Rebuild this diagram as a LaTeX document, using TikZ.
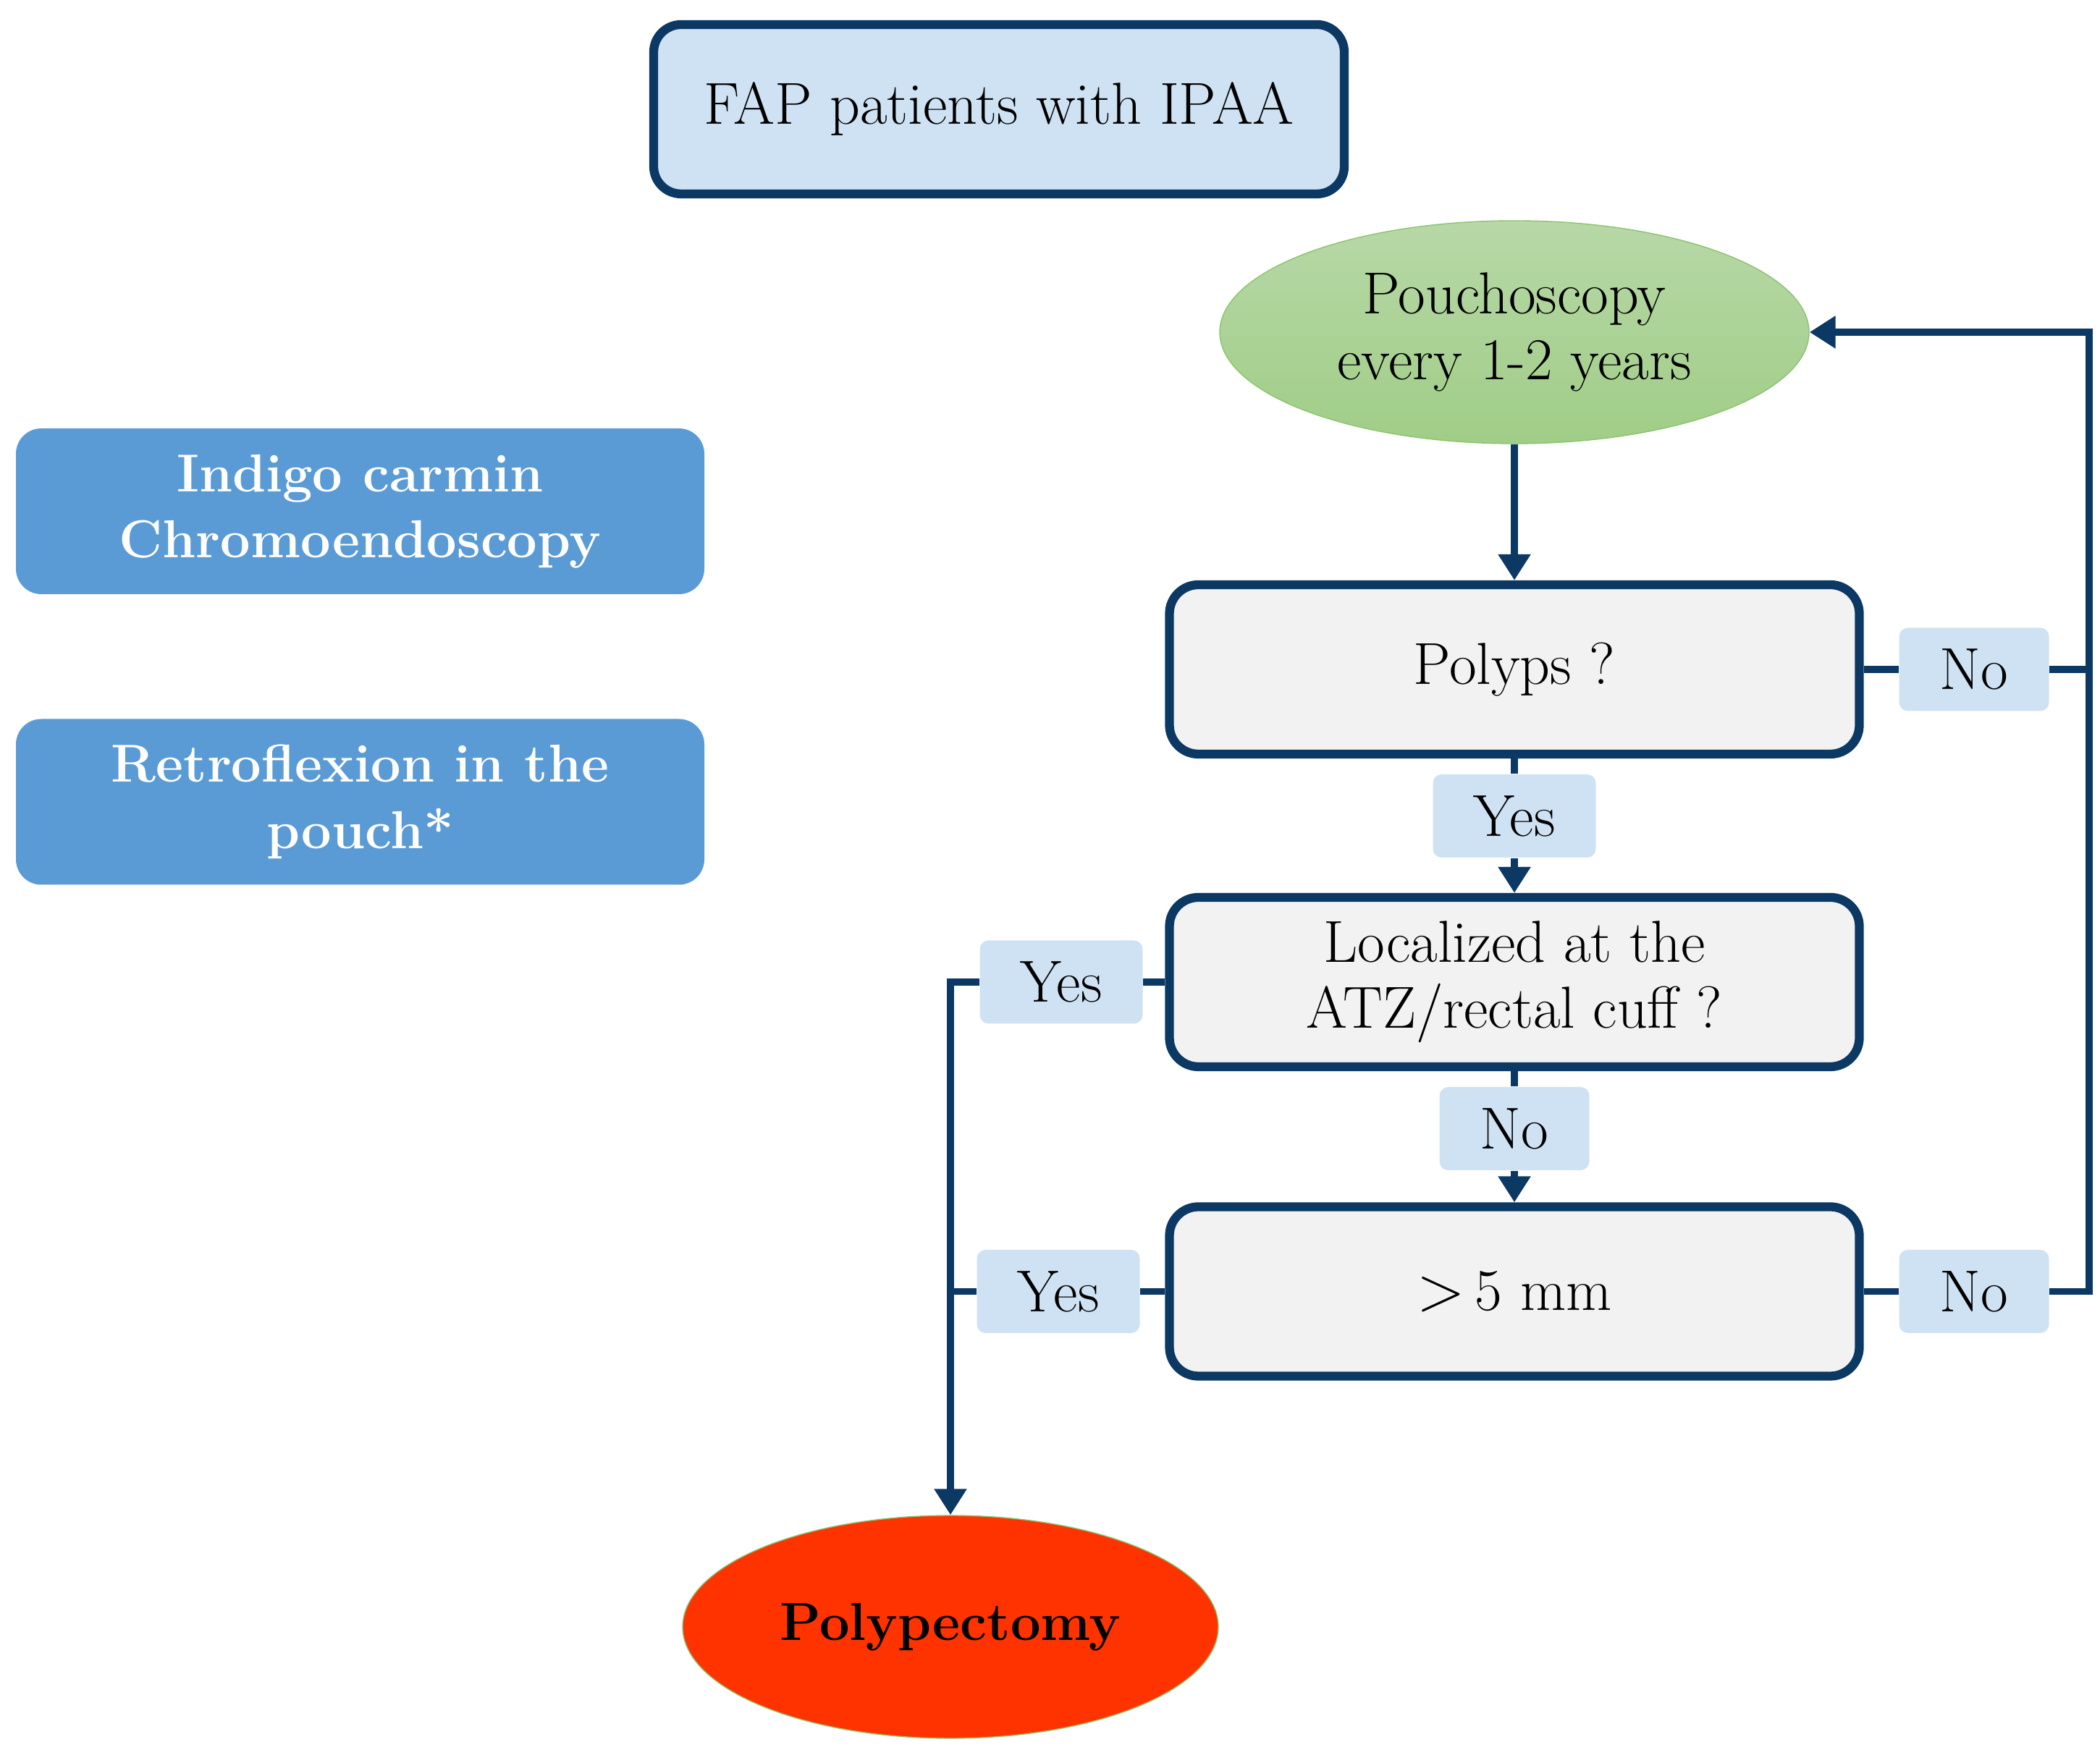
\documentclass[tikz,border=0pt]{standalone}
\usepackage{tikz}
\usetikzlibrary{positioning,shapes.geometric,arrows.meta}

\definecolor{navy}{RGB}{12,56,100}
\definecolor{paleblue}{RGB}{207,226,243}
\definecolor{midblue}{RGB}{91,155,213}
\definecolor{lightgrey}{RGB}{242,242,242}
\definecolor{leaftop}{RGB}{183,216,167}
\definecolor{leafbottom}{RGB}{160,205,135}
\definecolor{leafedge}{RGB}{140,195,110}
\definecolor{hotred}{RGB}{255,51,0}

\tikzset{
	every node/.style={font=\fontsize{23.3}{26}\selectfont, align=center},
	topbox/.style={draw=navy, line width=3.5pt, fill=paleblue, rounded corners=0.38cm, minimum width=9.54cm, minimum height=2.34cm},
	sidebox/.style={fill=midblue, text=white, font=\fontsize{21}{26}\selectfont\bfseries, rounded corners=0.35cm, minimum width=9.51cm, minimum height=2.29cm},
	question/.style={draw=navy, line width=3.5pt, fill=lightgrey, rounded corners=0.4cm, minimum width=9.53cm, minimum height=2.34cm},
	answer/.style={fill=paleblue, rounded corners=0.12cm, minimum height=1.15cm},
	yesbox/.style={answer, minimum width=2.25cm},
	nobox/.style={answer, minimum width=2.07cm},
	link/.style={draw=navy, line width=2.8pt},
	>={Triangle[width=0.43cm,length=0.36cm]}
}

\begin{document}
\begin{tikzpicture}
	\useasboundingbox (0,0) rectangle (29.01,24.25);

	\node[topbox] (fap) at (13.80,22.74) {FAP patients with IPAA};
	\node[ellipse, draw=leafedge, top color=leaftop, bottom color=leafbottom, inner sep=0pt, minimum width=8.14cm, minimum height=3.08cm] (pouch) at (20.92,19.66) {Pouchoscopy\\every 1-2 years};

	\node[sidebox] (indigo) at (4.975,17.185) {Indigo carmin\\Chromoendoscopy};
	\node[sidebox] (retro) at (4.975,13.17) {Retroflexion in the\\pouch*};

	\node[question] (polyps) at (20.92,15.00) {Polyps ?};
	\node[question] (atz) at (20.92,10.68) {Localized at the\\ATZ/rectal cuff ?};
	\node[question] (size) at (20.92,6.405) {$>$\,5 mm};

	\node[ellipse, draw=leafedge, fill=hotred, inner sep=0pt, minimum width=7.4cm, minimum height=3.08cm, font=\fontsize{21}{26}\selectfont\bfseries] (polypectomy) at (13.13,1.77) {Polypectomy};

	\node[nobox] (no1) at (27.27,15.00) {No};
	\node[yesbox] (yes1) at (20.92,12.975) {Yes};
	\node[yesbox] (yes2) at (14.66,10.68) {Yes};
	\node[nobox] (no2) at (20.92,8.655) {No};
	\node[yesbox] (yes3) at (14.62,6.405) {Yes};
	\node[nobox] (no3) at (27.27,6.405) {No};

	\coordinate (back) at (28.86,19.66);

	\draw[link, ->] (pouch) -- (polyps);
	\draw[link] (polyps) -- (yes1);
	\draw[link, ->] (yes1) -- (atz);
	\draw[link] (atz) -- (no2);
	\draw[link, ->] (no2) -- (size);

	\draw[link] (polyps) -- (no1);
	\draw[link] (no1) -- (no1 -| back);
	\draw[link] (size) -- (no3);
	\draw[link, ->] (no3) -| (back) -- (pouch);

	\draw[link] (atz) -- (yes2);
	\draw[link, ->] (yes2) -| (polypectomy);
	\draw[link] (size) -- (yes3);
	\draw[link] (yes3) -- (yes3 -| polypectomy);
\end{tikzpicture}
\end{document}
